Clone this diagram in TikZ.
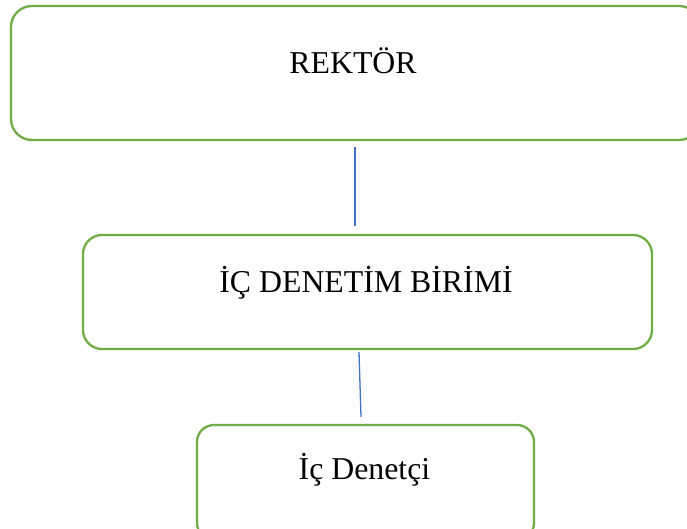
\documentclass[tikz,border=0pt]{standalone}
\usepackage{fontspec}
\setmainfont{Liberation Serif}
\definecolor{boxgreen}{HTML}{70AD47}
\definecolor{linkblue}{HTML}{4472C4}
\tikzset{
  orgbox/.style={draw=boxgreen, line width=2.3pt, fill=white, rectangle,
    inner sep=0pt},
  orgtext/.style={anchor=base, inner sep=0pt, font=\fontsize{31.8}{36}\selectfont},
  link/.style={draw=linkblue, line width=1.3pt}
}
\begin{document}
\begin{tikzpicture}[x=1pt,y=-1pt]
  \useasboundingbox[clip] (0,0) rectangle (687,528);
  \fill[white] (0,0) rectangle (687,528);

  % boxes
  \node[orgbox, rounded corners=21pt, minimum width=689pt, minimum height=134pt]
    (rektor) at (355.5,73) {};
  \node[orgbox, rounded corners=19pt, minimum width=569pt, minimum height=114pt]
    (birim) at (367.5,292) {};
  \node[orgbox, rounded corners=17pt, minimum width=337pt, minimum height=115pt]
    (denetci) at (365.5,482.5) {};

  % labels
  \node[orgtext] (trektor) at (353,73) {REKTÖR};
  \node[orgtext] (tbirim) at (366,292) {İÇ DENETİM BİRİMİ};
  \node[orgtext] (tdenetci) at (364.5,479) {İç Denetçi};

  % connectors
  \draw[link] ([xshift=-0.5pt,yshift=-6pt]rektor.south)
    -- ([xshift=-0.5pt,yshift=8pt]rektor.south |- birim.north);
  \draw[link] ([xshift=-8.5pt,yshift=-2pt]birim.south)
    -- ([xshift=-4.5pt,yshift=7pt]denetci.north);
\end{tikzpicture}
\end{document}
